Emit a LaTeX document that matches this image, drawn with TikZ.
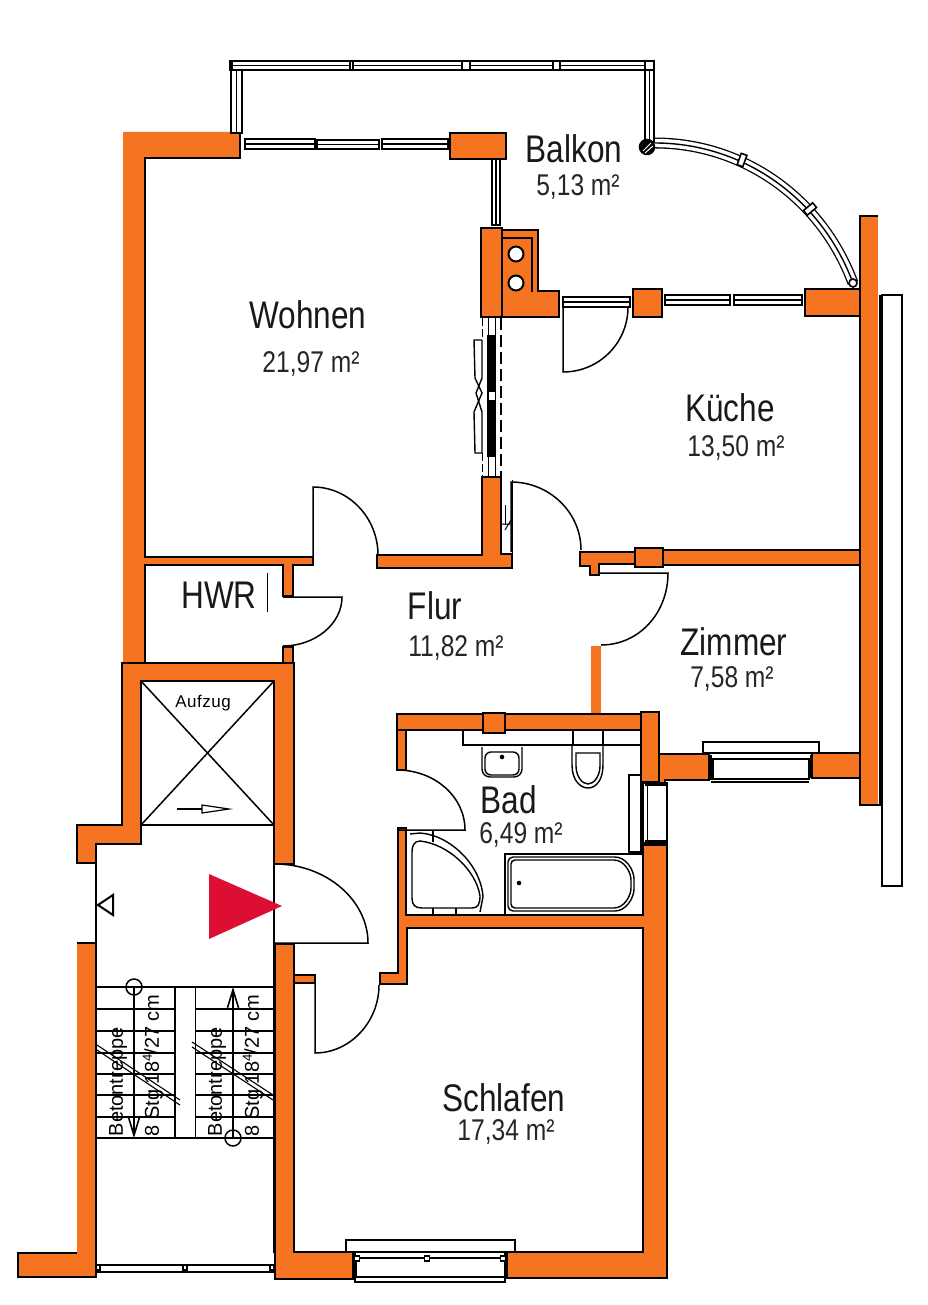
\documentclass[tikz,border=0pt]{standalone}
\usepackage{fontspec}
\setmainfont{Liberation Sans}
\newfontfamily\narrowfont[FakeStretch=0.82]{Liberation Sans}
\newfontfamily\planfont[LetterSpace=3]{Liberation Sans}
\usetikzlibrary{arrows.meta,positioning}
\definecolor{wallorange}{HTML}{F47421}
\definecolor{markred}{HTML}{DC0E34}
\newcommand{\stepsnote}{8 Stg 18\raisebox{7pt}{\fontsize{13}{13}\selectfont 4}/27 cm}
\tikzset{
  every picture/.style = {
    x = 1pt,
    y = -1pt,
    line width = 1.5pt,
  }
  , % masonry
  wall/.style = {
    fill = wallorange,
    draw = black,
    line width = 1.5pt
  }
  ,
  bare wall/.style = {
    fill = wallorange,
    draw = none
  }
  ,
  edge wall/.style = {
    draw = black,
    line width = 1.8pt
  }
  , % glazing
  sash/.style = {
    fill = white,
    draw = black,
    line width = 1.6pt
  }
  ,
  door/.style = {
    draw = black,
    line width = 1.5pt
  }
  ,
  fixture/.style = {
    draw = black,
    line width = 1.4pt
  }
  ,
  tread/.style = {
    draw = black,
    line width = 1.3pt
  }
  , % labels of rooms
  room-name/.style = {
    anchor = base,
    font = \narrowfont\fontsize{38.5}{40}\selectfont,
    inner sep = 0pt,
    text = black!90
  }
  ,
  room-area/.style = {
    anchor = base,
    font = \narrowfont\fontsize{30}{32}\selectfont,
    inner sep = 0pt,
    text = black!85
  }
  ,
  stair-label/.style = {
    rotate = 90,
    font = \fontsize{20}{22}\selectfont,
    inner sep = 0pt
  }
}

\begin{document}
\begin{tikzpicture}
    \path [use as bounding box, fill = white] (0,0) rectangle (927,1305);

    % outer walls
    \fill [bare wall] (123,132) -- (240,132) -- (240,158) -- (145,158) -- (145,557) -- (313,557) -- (313,565) -- (293,565) -- (293,596) -- (283,596) -- (283,565) -- (145,565) -- (145,663) -- (123,663) -- cycle;
    \draw [edge wall] (240,132) -- (240,158) -- (145,158) -- (145,557) -- (313,557) -- (313,565) -- (293,565) -- (293,596) -- (283,596) -- (283,565) -- (145,565) -- (145,663);
    \draw [wall] (283,647) -- (293,647) -- (293,663) -- (283,663) -- cycle;
    \draw [wall] (122,663) -- (294,663) -- (294,864) -- (274,864) -- (274,681) -- (141,681) -- (141,844) -- (96,844) -- (96,863) -- (77,863) -- (77,825) -- (122,825) -- cycle;
    \fill [bare wall] (77,943) -- (96,943) -- (96,1277) -- (18,1277) -- (18,1253) -- (77,1253) -- cycle;
    \draw [edge wall] (77,943) -- (96,943) -- (96,1277) -- (18,1277) -- (18,1253) -- (77,1253);
    \draw [wall] (275,944) -- (294,944) -- (294,1252) -- (353,1252) -- (353,1279) -- (275,1279) -- cycle;
    \draw [wall] (398,828) -- (406,828) -- (406,915) -- (643,915) -- (643,845) -- (667,845) -- (667,1278) -- (507,1278) -- (507,1252) -- (643,1252) -- (643,928) -- (407,928) -- (407,984) -- (380,984) -- (380,973) -- (398,973) -- cycle;

    % inner walls
    \draw [wall] (294,975) rectangle (315,983);
    \draw [wall] (450,133) rectangle (506,159);
    \draw [wall] (502,230) -- (538,230) -- (538,291) -- (559,291) -- (559,317) -- (502,317) -- cycle;
    \draw [wall] (481,228) rectangle (502,317);
    \draw [wall] (633,289) rectangle (662,317);
    \draw [wall] (805,289) rectangle (860,316);
    \draw [wall] (482,477) -- (501,477) -- (501,554) -- (512,554) -- (512,568) -- (377,568) -- (377,555) -- (482,555) -- cycle;
    \draw [wall] (580,552) -- (660,552) -- (660,564) -- (599,564) -- (599,575) -- (590,575) -- (590,566) -- (580,566) -- cycle;
    \draw [wall] (660,550) rectangle (860,565);
    \draw [wall] (635,548) rectangle (663,567);
    \fill [bare wall] (591,646) rectangle (601,715);
    \draw [wall] (397,714) rectangle (641,730);
    \draw [wall] (397,730) rectangle (406,770);
    \draw [wall] (483,713) rectangle (505,733);
    \draw [wall, line width = 2.5pt] (641,712) rectangle (659,782);
    \draw [wall] (659,754) -- (709,754) -- (709,780) -- (665,780) -- (665,783) -- (659,783) -- cycle;
    \draw [wall] (812,753) rectangle (861,778);
    \fill [bare wall] (860,216) rectangle (878,805);
    \draw [edge wall] (878,216) -- (860,216) -- (860,805) -- (881,805);
    \draw [draw = black, line width = 3pt] (880,295) -- (880,805);
    \draw [fill = white, draw = black, line width = 2pt] (882,295) rectangle (902,886);

    % flue
    \draw [black, line width = 1.8pt] (502,238) -- (532,238) -- (532,292);
    \foreach \flueY in {254,283} {
      \draw [fill = white, draw = black, line width = 2pt] (516,\flueY) circle (7.5);
    }

    % windows, balcony rail
    \draw [sash] (230,61) rectangle (654,70);
    \foreach \xa/\ya/\xb/\yb in {232/61/350/70, 353/61/462/70, 470/61/553/70, 560/61/645/70, 245/139/315/149, 317/140/379/149, 382/139/448/149, 563/297/630/307, 665/295/730/305, 734/295/802/305} {
      \draw [sash] (\xa,\ya) rectangle (\xb,\yb);
      \draw [black, line width = 1.3pt] (\xa,{(\ya+\yb)/2}) -- (\xb,{(\ya+\yb)/2});
    }
    \foreach \xa/\ya/\xb/\yb in {231/70/242/133, 645/70/654/142, 492/159/500/225} {
      \draw [sash] (\xa,\ya) rectangle (\xb,\yb);
      \draw [black, line width = 1.3pt] ({(\xa+\xb)/2},\ya) -- ({(\xa+\xb)/2},\yb);
    }
    \draw [sash, fill = none] (703,742) rectangle (819,753);
    \draw [sash] (713,759) rectangle (809,779);
    \draw [sash, fill = none] (346,1240) rectangle (515,1252);
    \draw [sash] (356,1258) rectangle (505,1277);
    \draw [black, line width = 1.2pt] (355,1282) -- (505,1282) -- (505,1252) -- (355,1252) -- cycle;
    \draw [black, line width = 1.2pt] (711,782) -- (809,782);
    \draw [black, line width = 2.5pt] (354,1252) -- (354,1279) (506,1252) -- (506,1279);
    \draw [black, line width = 2.5pt] (711,755) -- (711,780) (811,755) -- (811,778);
    \foreach \frameX in {357,427,503} {
      \draw [fill = white, draw = black, line width = 1.2pt] (\frameX-2.5,1256) rectangle (\frameX+2.5,1261);
    }
    \draw [sash] (643,783) rectangle (667,843);
    \draw [black, line width = 1pt] (647,785) -- (647,841);
    \draw [black, line width = 2.5pt] (642,783) -- (642,845);
    \draw [black, line width = 2pt] (645,785) -- (667,785) (645,841) -- (667,841);
    \draw [sash] (96,1265) rectangle (275,1272);
    \foreach \frameX in {98,185,272} {
      \draw [fill = white, draw = black, line width = 1.2pt] (\frameX-2,1265) rectangle (\frameX+2,1270);
    }

    % curved glazing
    \draw [black, line width = 11pt] (655,143) .. controls (740,143) and (820,195) .. (853,283);
    \draw [white, line width = 8.4pt] (655,143) .. controls (740,143) and (820,195) .. (853,283);
    \draw [black, line width = 1.4pt] (655,143) .. controls (740,143) and (820,195) .. (853,283);
    \draw [sash, rotate around = {-20:(742,160)}] (739,154) rectangle (745,166);
    \draw [sash, rotate around = {-50:(810,209)}] (807,203) rectangle (813,215);
    \draw [sash] (853,283) circle (4);
    \draw [fill = black, draw = black] (647,147) circle (7.5);
    \draw [white, line width = 1pt] (643,151) -- (651,143) (645,153) -- (653,146);

    % sliding door
    \draw [fill = black, draw = none] (487,335) rectangle (496,457);
    \draw [fill = white, draw = none] (489,392) rectangle (495,400);
    \draw [black, line width = 1pt] (488,318) -- (488,335) (495,318) -- (495,335) (488,457) -- (488,476) (495,457) -- (495,476);
    \draw [black, line width = 1.5pt, dash pattern = on 12pt off 5pt] (501,318) -- (501,476);
    \draw [black, line width = 1pt, dash pattern = on 8pt off 3pt] (482,318) -- (482,340) (482,453) -- (482,476);
    \draw [black, line width = 1.4pt] (482,340) -- (474,340) -- (475,378) -- (482,393) -- (474,412) -- (475,453) -- (482,453);
    \draw [black, line width = 1.4pt] (482,340) -- (482,378) -- (476,393) -- (482,412) -- (482,453);
    \draw [black, line width = 1pt] (512,480) -- (512,554) (505,505) -- (505,525);
    \draw [black, line width = 1pt] (502,524) -- (512,524) (505,530) -- (511,520);

    % doors
    \draw [door] (313,557) -- (313,487) .. controls (349,487) and (378,518) .. (378,555);
    \draw [door] (511,552) -- (511,482) .. controls (549,482) and (581,512) .. (581,550);
    \draw [door] (563,307) -- (563,372) .. controls (599,372) and (628,343) .. (628,307);
    \draw [door] (283,597) -- (342,597) .. controls (342,624) and (315,646) .. (283,646);
    \draw [door] (599,573) -- (668,573) .. controls (668,613) and (639,645) .. (601,645);
    \draw [door] (397,830) -- (465,830) .. controls (465,797) and (435,770) .. (397,770);
    \draw [door] (275,864) .. controls (326,864) and (368,900) .. (368,943) -- (275,943);
    \draw [door] (315,975) -- (315,1053) .. controls (350,1053) and (379,1022) .. (379,985);

    % lift
    \draw [black, line width = 2pt] (141,681) rectangle (274,825);
    \draw [black, line width = 1.5pt] (141,681) -- (274,825) (274,681) -- (141,825);
    \draw [black, line width = 1.5pt] (177,809) -- (202,809);
    \draw [black, line width = 1.2pt] (202,805) -- (229,809) -- (202,813) -- cycle;
    \node [font = \planfont\fontsize{17}{18}\selectfont, inner sep = 0pt] (lift) at (203,703) {Aufzug};

    % landing
    \draw [black, line width = 2pt] (274,825) -- (274,1253);
    \draw [black, line width = 2pt] (96,844) -- (96,1253);
    \draw [black, line width = 2pt] (113,895) -- (98,905) -- (113,915) -- cycle;
    \draw [draw = none, fill = markred] (209,874) -- (282,906) -- (209,939) -- cycle;

    % stairs
    \draw [tread] (96,987) -- (274,987) (96,1138) -- (274,1138);
    \foreach \treadY in {1009,1031,1053,1074,1095,1117} {
      \draw [tread] (96,\treadY) -- (175,\treadY) (195,\treadY) -- (274,\treadY);
    }
    \draw [tread] (175,987) -- (175,1138);
    \draw [black, line width = .8pt] (195,987) -- (195,1138);
    \draw [black, line width = 1.6pt, -{Straight Barb[length = 18pt, width = 11pt]}] (134,987) -- (134,1138);
    \draw [black, line width = 1.6pt, -{Straight Barb[length = 18pt, width = 11pt]}] (233,1138) -- (233,987);
    \draw [black, line width = 1.5pt] (134,987) circle (8);
    \draw [black, line width = 1.5pt] (233,1138) circle (8);
    \foreach \xa/\ya/\xb/\yb in {97/1045/180/1100, 192/1042/273/1095} {
      \draw [black, line width = 1.1pt] (\xa,\ya) -- (\xb,\yb) (\xa,\ya+5) -- (\xb,\yb+5);
    }
    \node [stair-label, anchor = west] (flightA) at (118,1137) {Betontreppe};
    \node [stair-label, anchor = west] (stepsA) at (153,1137) {\stepsnote};
    \node [stair-label, anchor = west] (flightB) at (217,1137) {Betontreppe};
    \node [stair-label, anchor = west] (stepsB) at (253,1137) {\stepsnote};

    % bathroom
    \draw [fixture] (463,731) -- (463,745) -- (640,745);
    \draw [fixture] (573,731) -- (573,745) (603,731) -- (603,745);
    \draw [fixture, rounded corners = 8pt] (482,747) -- (482,777) -- (522,777) -- (522,747);
    \draw [fixture, rounded corners = 6pt] (485,752) -- (485,775) -- (519,775) -- (519,752) -- cycle;
    \fill (502,757) circle (2.3);
    \draw [fixture] (572,745) -- (572,765) .. controls (572,780) and (580,788) .. (588,788) .. controls (596,788) and (603,780) .. (603,765) -- (603,745);
    \draw [fixture] (576,753) -- (576,766) .. controls (576,776) and (582,784) .. (588,784) .. controls (594,784) and (600,776) .. (600,766) -- (600,753) -- cycle;
    \draw [fixture] (629,775) rectangle (641,852);
    \draw [fixture] (505,914) -- (505,854) -- (643,854);
    \draw [fixture, rounded corners = 4pt] (511,860) -- (610,860) .. controls (624,860) and (631,872) .. (631,884) .. controls (631,896) and (624,908) .. (610,908) -- (511,908) -- cycle;
    \draw [fixture, rounded corners = 5pt] (508,857) -- (610,857) .. controls (626,857) and (634,870) .. (634,884) .. controls (634,898) and (626,911) .. (610,911) -- (508,911) -- cycle;
    \fill (519,883) circle (2.3);
    \draw [fixture] (410,834) -- (420,833) .. controls (450,835) and (481,865) .. (483,897) -- (480,912);
    \draw [fixture] (412,852) .. controls (412,846) and (414,841) .. (420,841) .. controls (448,844) and (476,870) .. (480,896) .. controls (480,904) and (478,908) .. (472,908) -- (422,908) .. controls (415,908) and (412,905) .. (412,898) -- cycle;
    \draw [fixture] (433,830) -- (433,842) (433,908) -- (433,914) (456,908) -- (456,914);

    % rooms
    \node [room-name] (balcony) at (574,163) {Balkon};
    \node [room-area] at (578,196) {5,13 m²};
    \node [room-name] (living) at (308,328) {Wohnen};
    \node [room-area] at (311,372) {21,97 m²};
    \node [room-name] (kitchen) at (730,421) {Küche};
    \node [room-area] at (736,456) {13,50 m²};
    \node [room-name] (hall) at (435,619) {Flur};
    \node [room-area] at (456,656) {11,82 m²};
    \node [room-name] (utility) at (219,608) {HWR};
    \draw [black, line width = .8pt] (267,573) -- (267,612);
    \node [room-name] (room) at (734,655) {Zimmer};
    \node [room-area] at (732,687) {7,58 m²};
    \node [room-name] (bath) at (509,813) {Bad};
    \node [room-area] at (521,843) {6,49 m²};
    \node [room-name] (bedroom) at (504,1111) {Schlafen};
    \node [room-area] at (506,1140) {17,34 m²};
\end{tikzpicture}
\end{document}
